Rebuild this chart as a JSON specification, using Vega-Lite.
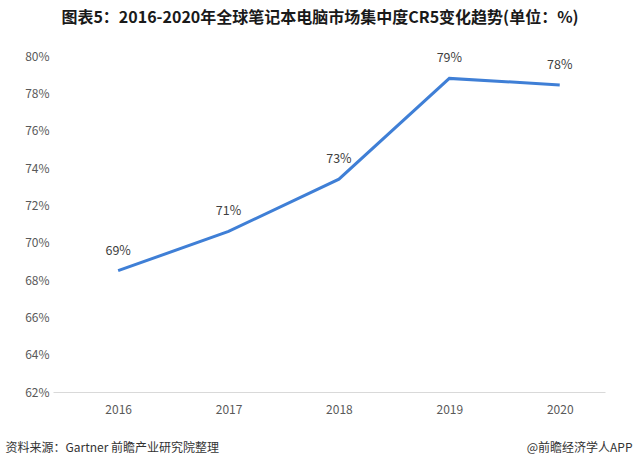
{
  "$schema": "https://vega.github.io/schema/vega-lite/v6.json",
  "autosize": "none",
  "width": 552,
  "height": 336,
  "padding": {"left": 53, "top": 56, "right": 31, "bottom": 76},
  "background": "white",
  "config": {
    "font": "Noto Sans CJK SC",
    "view": {"stroke": null}
  },
  "title": {
    "text": "图表5：2016-2020年全球笔记本电脑市场集中度CR5变化趋势(单位：%)",
    "font": "Noto Sans CJK SC",
    "fontSize": 16,
    "fontWeight": "bold",
    "color": "#1a1a1a",
    "anchor": "middle",
    "dx": -9,
    "offset": 24
  },
  "data": {
    "values": [
      {"year": "2016", "cr5": 68.5, "label": "69%"},
      {"year": "2017", "cr5": 70.6, "label": "71%"},
      {"year": "2018", "cr5": 73.4, "label": "73%"},
      {"year": "2019", "cr5": 78.8, "label": "79%"},
      {"year": "2020", "cr5": 78.45, "label": "78%"}
    ]
  },
  "encoding": {
    "x": {
      "field": "year",
      "type": "ordinal",
      "scale": {"type": "point", "paddingOuter": 0.51, "align": 0.59},
      "axis": {
        "title": "资料来源：Gartner 前瞻产业研究院整理",
        "titleFont": "Noto Sans CJK SC",
        "titleFontSize": 12,
        "titleFontWeight": "normal",
        "titleColor": "#333333",
        "titleAlign": "left",
        "titleAnchor": "start",
        "titleBaseline": "middle",
        "titleX": -48,
        "titleY": 55,
        "labelAngle": 0,
        "labelFontSize": 12,
        "labelColor": "#595959",
        "labelPadding": 12,
        "ticks": false,
        "domainColor": "#d9d9d9",
        "domainWidth": 1
      }
    },
    "y": {
      "field": "cr5",
      "type": "quantitative",
      "scale": {"domain": [62, 80], "nice": false, "zero": false},
      "axis": {
        "values": [62, 64, 66, 68, 70, 72, 74, 76, 78, 80],
        "labelExpr": "datum.value + '%'",
        "labelFontSize": 12,
        "labelColor": "#595959",
        "labelPadding": 4,
        "ticks": false,
        "domain": false,
        "grid": false,
        "title": "@前瞻经济学人APP",
        "titleFont": "Noto Sans CJK SC",
        "titleFontSize": 12,
        "titleFontWeight": "normal",
        "titleColor": "#333333",
        "titleAngle": 0,
        "titleAlign": "right",
        "titleBaseline": "middle",
        "titleX": 579,
        "titleY": 391
      }
    }
  },
  "layer": [
    {
      "mark": {"type": "line", "color": "#3F7FD6", "strokeWidth": 3}
    },
    {
      "mark": {"type": "text", "dy": -20, "fontSize": 12.5, "color": "#404040"},
      "encoding": {"text": {"field": "label"}}
    }
  ]
}
